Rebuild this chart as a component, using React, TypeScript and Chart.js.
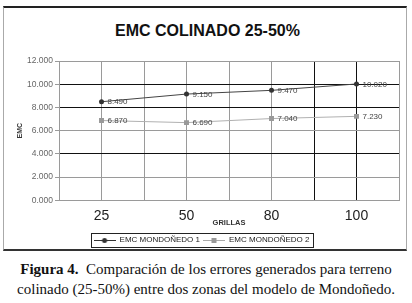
import React, { useEffect, useRef } from "react";
import { Chart, registerables } from "chart.js";

Chart.register(...registerables);

const categories = ["25", "50", "80", "100"];
const series1 = [8.49, 9.15, 9.47, 10.02];
const series2 = [6.87, 6.69, 7.04, 7.23];
const seriesNames = ["EMC MONDOÑEDO 1", "EMC MONDOÑEDO 2"];
const yMin = 0;
const yMax = 12;
const yStep = 2;
const darkYLines = [4, 8, 10];
const darkXIndex = 3;
const chartTitle = "EMC COLINADO 25-50%";
const xTitle = "GRILLAS";
const yTitle = "EMC";
const captionBold = "Figura 4.";
const captionLine1 = "  Comparación de los errores generados para terreno";
const captionLine2 = "colinado (25-50%) entre dos zonas del modelo de Mondoñedo.";

const FAMILY = '"Liberation Sans", Arial, sans-serif';
const GRAY = "#9a9a9a";
const DARK = "#111";

function makeSample(lineColor: string, markColor: string, shape: string) {
  const c = document.createElement("canvas");
  c.width = 22;
  c.height = 8;
  const g = c.getContext("2d")!;
  g.strokeStyle = lineColor;
  g.lineWidth = 1;
  g.beginPath();
  g.moveTo(0, 4.5);
  g.lineTo(22, 4.5);
  g.stroke();
  g.fillStyle = markColor;
  if (shape === "circle") {
    g.beginPath();
    g.arc(11, 4.5, 2.5, 0, Math.PI * 2);
    g.fill();
  } else {
    g.fillRect(8.5, 2, 5, 5);
  }
  return c;
}

const dataLabelPlugin = {
  id: "dataLabels",
  afterDatasetsDraw(chart: any) {
    const ctx = chart.ctx;
    ctx.save();
    ctx.font = `8px ${FAMILY}`;
    ctx.fillStyle = "#444";
    ctx.textBaseline = "middle";
    ctx.textAlign = "left";
    chart.data.datasets.forEach((ds: any, i: number) => {
      chart.getDatasetMeta(i).data.forEach((pt: any, j: number) => {
        ctx.fillText(Number(ds.data[j]).toFixed(3), pt.x + 6, pt.y + 0.5);
      });
    });
    ctx.restore();
  },
};

const legendBorderPlugin = {
  id: "legendBorder",
  afterDraw(chart: any) {
    const lg = chart.legend;
    if (!lg || !lg.legendHitBoxes || !lg.legendHitBoxes.length) return;
    const hb = lg.legendHitBoxes;
    const first = hb[0];
    const last = hb[hb.length - 1];
    const left = first.left - 3;
    const right = last.left + last.width + 3;
    const cy = first.top + first.height / 2;
    const ctx = chart.ctx;
    ctx.save();
    ctx.strokeStyle = "#222";
    ctx.lineWidth = 1;
    ctx.strokeRect(Math.round(left) + 0.5, Math.round(cy - 7) + 0.5, Math.round(right - left), 14);
    ctx.restore();
  },
};

export default function App() {
  const ref = useRef<HTMLCanvasElement>(null);

  useEffect(() => {
    if (!ref.current) return;
    const samples = [
      makeSample("#333", "#333", "circle"),
      makeSample("#aaa", "#999", "rect"),
    ];
    const chart = new Chart(ref.current, {
      type: "line",
      data: {
        labels: categories,
        datasets: [
          {
            label: seriesNames[0],
            data: series1,
            borderColor: "#444",
            backgroundColor: "#333",
            borderWidth: 1,
            pointStyle: "circle",
            pointRadius: 2.5,
            pointBackgroundColor: "#333",
            pointBorderColor: "#333",
            pointBorderWidth: 0,
            xAxisID: "x",
            tension: 0,
          },
          {
            label: seriesNames[1],
            data: series2,
            borderColor: "#b0b0b0",
            backgroundColor: "#999",
            borderWidth: 1,
            pointStyle: "rect",
            pointRadius: 3.5,
            pointBackgroundColor: "#999",
            pointBorderColor: "#999",
            pointBorderWidth: 0,
            xAxisID: "x",
            tension: 0,
          },
        ],
      },
      options: {
        responsive: false,
        animation: false,
        events: [],
        layout: { padding: { left: 0, right: 55, top: 52, bottom: 0 } },
        plugins: {
          title: { display: false },
          tooltip: { enabled: false },
          legend: {
            display: true,
            position: "bottom",
            labels: {
              usePointStyle: true,
              pointStyleWidth: 22,
              padding: 3,
              color: "#222",
              font: { size: 8, family: FAMILY },
              generateLabels: (ch: any) =>
                ch.data.datasets.map((ds: any, i: number) => ({
                  text: ds.label,
                  pointStyle: samples[i],
                  fillStyle: ds.backgroundColor,
                  strokeStyle: ds.borderColor,
                  lineWidth: 0,
                  hidden: false,
                  datasetIndex: i,
                  fontColor: "#222",
                })),
            },
          },
        },
        scales: {
          x: {
            type: "category",
            position: "bottom",
            offset: true,
            grid: {
              offset: false,
              drawTicks: false,
              color: (c: any) => (c.index === darkXIndex ? DARK : GRAY),
            },
            border: { display: true, color: GRAY },
            ticks: {
              color: "#222",
              font: { size: 14, family: FAMILY },
              padding: 7,
              maxRotation: 0,
            },
            title: {
              display: true,
              text: xTitle,
              color: "#333",
              font: { size: 7.5, weight: "bold", family: FAMILY },
              padding: { top: 0, bottom: 5.5 },
            },
            afterFit: (s: any) => {
              s.height = 32.75;
            },
          },
          x2: {
            type: "category",
            position: "top",
            offset: true,
            grid: {
              offset: true,
              drawTicks: false,
              color: (c: any) => (c.index === darkXIndex ? DARK : GRAY),
            },
            border: { display: false },
            ticks: { display: false },
            afterFit: (s: any) => {
              s.height = 0;
            },
          },
          y: {
            type: "linear",
            min: yMin,
            max: yMax,
            ticks: {
              stepSize: yStep,
              callback: (v: any) => Number(v).toFixed(3),
              color: "#666",
              font: { size: 8.5, family: FAMILY },
              padding: 2,
            },
            grid: {
              color: (c: any) =>
                c.tick && darkYLines.includes(c.tick.value) ? DARK : GRAY,
              tickLength: 4,
              tickColor: GRAY,
            },
            border: { display: true, color: GRAY },
            title: {
              display: true,
              text: yTitle,
              color: "#333",
              font: { size: 7, weight: "bold", family: FAMILY },
              padding: { top: 12, bottom: 0 },
            },
            afterFit: (s: any) => {
              s.width = 55;
            },
          },
        },
      } as any,
      plugins: [dataLabelPlugin, legendBorderPlugin],
    });
    return () => chart.destroy();
  }, []);

  return (
    <div
      style={{
        position: "absolute",
        left: 0,
        top: 0,
        width: 412,
        height: 303,
        overflow: "hidden",
        background: "#fff",
      }}
    >
      <div
        style={{
          position: "absolute",
          left: 3,
          top: 6,
          width: 404,
          height: 245,
          boxSizing: "border-box",
          borderTop: "2px solid #222",
          borderBottom: "2px solid #333",
          borderLeft: "1px solid #aaa",
          borderRight: "1px solid #aaa",
        }}
      />
      <div
        style={{
          position: "absolute",
          left: 3,
          top: 22.5,
          width: 409,
          textAlign: "center",
          fontFamily: FAMILY,
          fontWeight: "bold",
          fontSize: 16,
          lineHeight: "16px",
          color: "#111",
          whiteSpace: "nowrap",
        }}
      >
        {chartTitle}
      </div>
      <canvas
        ref={ref}
        width={450}
        height={245}
        style={{ position: "absolute", left: 4, top: 9, width: 450, height: 245 }}
      />
      <div
        style={{
          position: "absolute",
          left: 0,
          top: 260.2,
          width: 412,
          textAlign: "center",
          fontFamily: '"Liberation Serif", "Times New Roman", serif',
          fontSize: 15,
          lineHeight: "19.5px",
          color: "#111",
          whiteSpace: "pre",
        }}
      >
        <div>
          <b>{captionBold}</b>
          {captionLine1}
        </div>
        <div>{captionLine2}</div>
      </div>
    </div>
  );
}
